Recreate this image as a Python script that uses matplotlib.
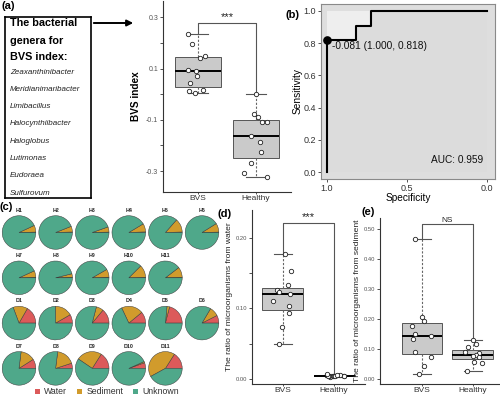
import numpy as np
import matplotlib
matplotlib.use('Agg')
import matplotlib.pyplot as plt
from matplotlib.patches import Patch

plt.rcParams['font.family'] = ['Liberation Sans', 'DejaVu Sans']

W, H = 500, 399

# ---------------- data ----------------
groups = ['BVS', 'Healthy']

genera = ['Zeaxanthinibacter', 'Meridianimaribacter', 'Limibacillus',
          'Halocynthiibacter', 'Haloglobus', 'Lutimonas', 'Eudoraea', 'Sulfurovum']

bvs_index_bvs = [0.236, 0.197, 0.150, 0.143, 0.096, 0.092, 0.073, 0.042, 0.015, 0.011, 0.003]
bvs_index_healthy = [0.000, -0.079, -0.090, -0.110, -0.110, -0.164, -0.188, -0.227, -0.270, -0.308, -0.323]

roc_specificity = [1.0, 1.0, 0.818, 0.818, 0.727, 0.727, 0.0]
roc_sensitivity = [0.0, 0.818, 0.818, 0.909, 0.909, 1.0, 1.0]
best_threshold = -0.081
best_spec, best_sens = 1.000, 0.818
auc_value = 0.959

sources = ['Water', 'Sediment', 'Unknown']
healthy_samples = ['H1', 'H2', 'H3', 'H4', 'H5', 'H6', 'H7', 'H8', 'H9', 'H10', 'H11']
healthy_water = [0.004, 0.005, 0.004, 0.006, 0.005, 0.004, 0.005, 0.004, 0.006, 0.005, 0.004]
healthy_sediment = [0.065, 0.055, 0.050, 0.080, 0.130, 0.085, 0.063, 0.035, 0.077, 0.120, 0.100]
bvs_samples = ['D1', 'D2', 'D3', 'D4', 'D5', 'D6', 'D7', 'D8', 'D9', 'D10', 'D11']
bvs_water = [0.167, 0.083, 0.140, 0.110, 0.210, 0.075, 0.090, 0.050, 0.160, 0.055, 0.160]
bvs_sediment = [0.140, 0.170, 0.070, 0.210, 0.025, 0.090, 0.140, 0.180, 0.245, 0.012, 0.420]

water_ratio_bvs = [0.177, 0.153, 0.133, 0.126, 0.123, 0.121, 0.110, 0.103, 0.093, 0.074, 0.049]
water_ratio_healthy = [0.003, 0.004, 0.004, 0.005, 0.005, 0.005, 0.006, 0.006, 0.004, 0.005, 0.007]
sediment_ratio_bvs = [0.467, 0.205, 0.194, 0.178, 0.149, 0.143, 0.132, 0.091, 0.074, 0.044, 0.017]
sediment_ratio_healthy = [0.130, 0.115, 0.105, 0.090, 0.085, 0.079, 0.075, 0.072, 0.058, 0.052, 0.028]

# ---------------- helpers ----------------
fig = plt.figure(figsize=(W / 100, H / 100), dpi=100)


def px(x0, y0, x1, y1):
    return [x0 / W, 1 - y1 / H, (x1 - x0) / W, (y1 - y0) / H]


def ftext(x, y, s, **kw):
    return fig.text(x / W, 1 - y / H, s, **kw)


# overlay axes in pixel units (y up)
ax0 = fig.add_axes([0, 0, 1, 1])
ax0.set_axis_off()

SRC_COLORS = ['#DC5A5A', '#D19B2C', '#4FA88A']


def style_box_axes(ax, tick_fs):
    for s in ['top', 'right']:
        ax.spines[s].set_visible(False)
    for s in ['left', 'bottom']:
        ax.spines[s].set_color('#333333')
        ax.spines[s].set_linewidth(0.8)
    ax.tick_params(axis='y', labelsize=tick_fs, colors='#333333', length=2, width=0.6,
                   pad=1.5, labelcolor='#555555')
    ax.tick_params(axis='x', labelsize=6.0, colors='#333333', length=1.5, width=0.6,
                   pad=0.8, labelcolor='#333333')
    ax.set_facecolor('none')


def box_panel(ax, a, b, sig, offset_frac, seed, sig_fs=8):
    ax.boxplot([a, b], positions=[1, 2], widths=0.8, whis=(0, 100), patch_artist=True,
               showfliers=False, capwidths=0.35,
               medianprops=dict(color='black', lw=1.4),
               boxprops=dict(facecolor='#cacaca', edgecolor='#555555', lw=0.7),
               whiskerprops=dict(color='#666666', lw=0.8, ls=(0, (2, 1.5))),
               capprops=dict(color='#555555', lw=0.8))
    rng = np.random.default_rng(seed)
    for i, d in enumerate([a, b]):
        xs = i + 1 + rng.uniform(-0.2, 0.2, len(d))
        ax.scatter(xs, d, s=10, facecolor='white', edgecolor='#222222', lw=0.6, zorder=3)
    lo, hi = ax.get_ylim()
    ybr = max(max(a), max(b)) + offset_frac * (hi - lo)
    ax.plot([1, 1, 2, 2], [max(a), ybr, ybr, max(b)], color='#555555', lw=0.8)
    ax.text(1.5, ybr + 0.003 * (hi - lo), sig, ha='center', va='bottom', fontsize=sig_fs,
            color='#222222')
    ax.set_xticks([1, 2])
    ax.set_xticklabels(groups)


# ---------------- (a) text box + arrow ----------------
ax_box = fig.add_axes(px(5, 17, 91, 198))
ax_box.set_xticks([])
ax_box.set_yticks([])
for s in ax_box.spines.values():
    s.set_color('black')
    s.set_linewidth(1.2)
ax_box.set_facecolor('white')

ftext(10, 23, 'The bacterial', fontsize=7.8, fontweight='bold', va='center', ha='left')
ftext(10, 41, 'genera for', fontsize=7.8, fontweight='bold', va='center', ha='left')
ftext(10, 57, 'BVS index:', fontsize=7.8, fontweight='bold', va='center', ha='left')
for i, g in enumerate(genera):
    ftext(10, 72 + i * 17.3, g, fontsize=5.8, style='italic', va='center', ha='left',
          color='#222222')

ax0.annotate('', xy=(136, H - 23), xytext=(91, H - 23),
             arrowprops=dict(arrowstyle='-|>', lw=1.4, color='black', mutation_scale=9))

ftext(2, 6, '(a)', fontsize=8, fontweight='bold', va='center', ha='left')

# ---------------- (a) boxplot ----------------
ax_a = fig.add_axes(px(163, 1, 291, 192))
ax_a.set_xlim(0.4, 2.6)
ax_a.set_ylim(-0.382, 0.364)
box_panel(ax_a, bvs_index_bvs, bvs_index_healthy, '***', 0.058, 3)
style_box_axes(ax_a, 5)
yt = [-0.3, -0.2, -0.1, 0.0, 0.1, 0.2, 0.3]
ax_a.set_yticks(yt)
ax_a.set_yticklabels(['-0.3', '', '-0.1', '', '0.1', '', '0.3'])
ax_a.set_ylabel('BVS index', fontsize=7.2, fontweight='bold', labelpad=3.5)

# ---------------- (b) ROC ----------------
ax_b = fig.add_axes(px(321, 4, 495, 179))
ax_b.set_facecolor('#dedede')
ax_b.fill_between(roc_specificity, 0, 1, color='#eeeeee', lw=0)
ax_b.fill_between(roc_specificity, 0, roc_sensitivity, color='#dcdcdc', lw=0)
ax_b.plot(roc_specificity, roc_sensitivity, color='black', lw=1.5)
ax_b.plot([best_spec], [best_sens], 'o', color='black', ms=5.2)
ax_b.text(best_spec - 0.03, best_sens - 0.005,
          f'{best_threshold:.3f} ({best_spec:.3f}, {best_sens:.3f})',
          ha='left', va='top', fontsize=7.3, color='#111111')
ax_b.text(0.025, 0.075, f'AUC: {auc_value:.3f}', ha='right', va='center', fontsize=7.3,
          color='#111111')
ax_b.set_xlim(1.0375, -0.05)
ax_b.set_ylim(-0.043, 1.043)
ax_b.set_xticks([1.0, 0.5, 0.0])
ax_b.set_xticklabels(['1.0', '0.5', '0.0'])
ax_b.set_yticks([0.0, 0.2, 0.4, 0.6, 0.8, 1.0])
ax_b.set_yticklabels(['0.0', '0.2', '0.4', '0.6', '0.8', '1.0'])
ax_b.tick_params(labelsize=6.5, length=2.5, width=0.6, pad=1, colors='#333333')
for s in ax_b.spines.values():
    s.set_color('#8a8a8a')
    s.set_linewidth(0.8)
ax_b.set_xlabel('Specificity', fontsize=7.3, labelpad=0)
ax_b.set_ylabel('Sensitivity', fontsize=7.3, labelpad=1)
ftext(286, 15, '(b)', fontsize=8, fontweight='bold', va='center', ha='left')

# ---------------- (c) pies ----------------
ftext(0, 207, '(c)', fontsize=8, fontweight='bold', va='center', ha='left')
R = 16.8
x0c, dxc = 19, 36.6
y0c, dyc = 232.5, 45.3


def draw_pies(names, water, sediment, row0):
    for i, (nm, w, s) in enumerate(zip(names, water, sediment)):
        row = row0 + (0 if i < 6 else 1)
        col = i if i < 6 else i - 6
        cx = x0c + col * dxc
        cy = H - (y0c + row * dyc)
        ax0.pie([w, s, 1 - w - s], colors=SRC_COLORS, center=(cx, cy), radius=R,
                startangle=0, counterclock=True,
                wedgeprops=dict(edgecolor='#3a3a3a', linewidth=0.35))
        ax0.text(cx, cy + R + 5.5, nm, ha='center', va='center', fontsize=3.8,
                 fontweight='bold', color='#222222')


draw_pies(healthy_samples, healthy_water, healthy_sediment, 0)
draw_pies(bvs_samples, bvs_water, bvs_sediment, 2)
ax0.set_xlim(0, W)
ax0.set_ylim(0, H)
ax0.set_aspect('auto')
ax0.set_axis_off()

handles = [Patch(facecolor=c, edgecolor='none') for c in SRC_COLORS]
ax0.legend(handles, sources, loc='center', bbox_to_anchor=(107 / W, 1 - 392 / H),
           bbox_transform=fig.transFigure, ncol=3, frameon=False, fontsize=6.3,
           handlelength=0.6, handleheight=0.6, handletextpad=0.5, columnspacing=1.1,
           labelcolor='#333333')

# ---------------- (d) water ratio ----------------
ax_d = fig.add_axes(px(252, 210, 365, 384))
ax_d.set_xlim(0.4, 2.6)
ax_d.set_ylim(-0.007, 0.2394)
box_panel(ax_d, water_ratio_bvs, water_ratio_healthy, '***', 0.178, 7)
style_box_axes(ax_d, 4.2)
ax_d.set_yticks([0.0, 0.05, 0.10, 0.15, 0.20])
ax_d.set_yticklabels(['0.00', '', '0.10', '', '0.20'])
ax_d.set_ylabel('The ratio of microorganisms from water', fontsize=6.1, labelpad=2,
                color='#222222')
ftext(218, 214, '(d)', fontsize=8, fontweight='bold', va='center', ha='left')

# ---------------- (e) sediment ratio ----------------
ax_e = fig.add_axes(px(380, 218, 499, 384))
ax_e.set_xlim(0.17, 2.52)
ax_e.set_ylim(-0.017, 0.537)
box_panel(ax_e, sediment_ratio_bvs, sediment_ratio_healthy, 'NS', 0.09, 11, sig_fs=6)
style_box_axes(ax_e, 4.2)
ax_e.set_yticks([0.0, 0.1, 0.2, 0.3, 0.4, 0.5])
ax_e.set_yticklabels(['0.00', '0.10', '0.20', '0.30', '0.40', '0.50'])
ax_e.set_ylabel('The ratio of microorganisms from sediment', fontsize=6.1, labelpad=2,
                color='#222222')
ftext(362, 212, '(e)', fontsize=8, fontweight='bold', va='center', ha='left')

fig.savefig('out.png', dpi=100)
